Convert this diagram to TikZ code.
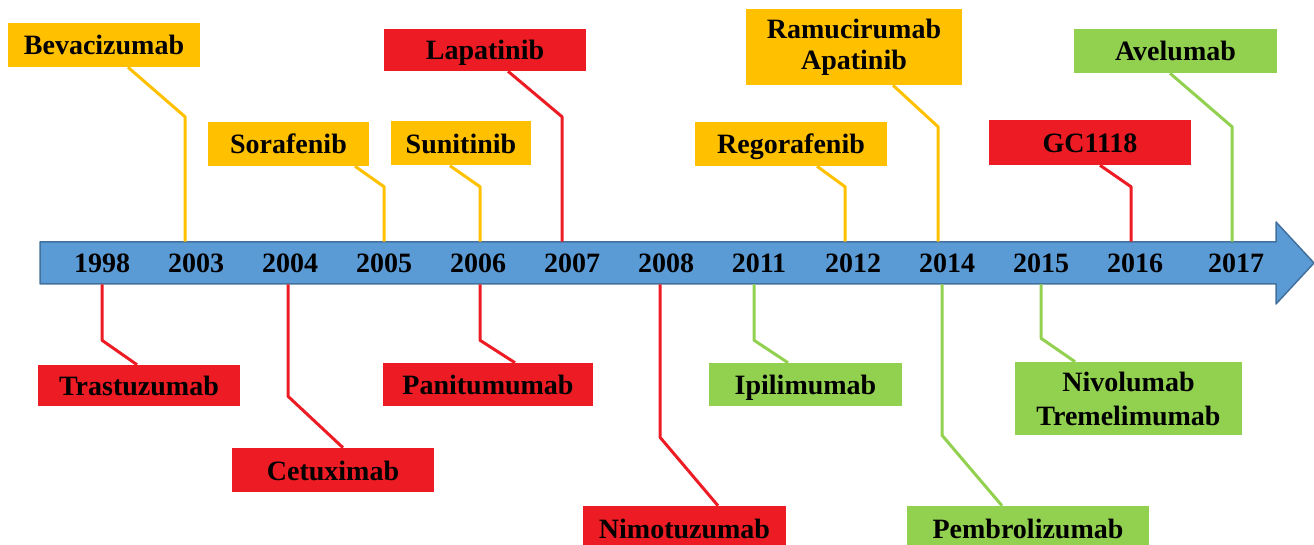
\documentclass[tikz,border=0pt]{standalone}
\usepackage{fontspec}
\setmainfont{Liberation Serif}
\newdimen\pxlen \pxlen=0.75pt
\begin{document}
\begin{tikzpicture}[x=0.75pt, y=-0.75pt, font=\fontsize{21}{25.5}\selectfont\bfseries, line join=round,
	drugbox/.style={inner sep=0pt, minimum height=44\pxlen, text height=15pt, text depth=0pt},
	twobox/.style={inner sep=0pt, align=center},
	yearlbl/.style={inner sep=0pt, minimum height=42\pxlen},
	link/.style={line width=3\pxlen}]
	% Bảng màu
	\definecolor{axisblue}{HTML}{5B9BD5}
	\definecolor{axisdark}{HTML}{41719C}
	\definecolor{drugyellow}{HTML}{FFC000}
	\definecolor{drugred}{HTML}{ED1C24}
	\definecolor{druggreen}{HTML}{92D050}
	
	\useasboundingbox (0,0) rectangle (1314,545);
	
	% Mũi tên thời gian
	\draw[fill=axisblue, draw=axisdark, line width=1.5\pxlen] (40,242) -- (1276,242) -- (1276,222) -- (1314,263) -- (1276,304) -- (1276,284) -- (40,284) -- cycle;
	
	% Các mốc năm
	\foreach \yr/\x in {1998/102, 2003/196, 2004/290, 2005/384, 2006/478, 2007/572, 2008/666, 2011/759, 2012/853, 2014/947, 2015/1041, 2016/1135, 2017/1236} {
		\node[yearlbl] (y\yr) at (\x,263) {\yr};
	}
	
	% Các thuốc phía trên trục
	\node[drugbox, fill=drugyellow, minimum width=192\pxlen] (bev) at (104,45) {Bevacizumab};
	\node[drugbox, fill=drugyellow, minimum width=161\pxlen] (sor) at (288.5,144) {Sorafenib};
	\node[drugbox, fill=drugyellow, minimum width=140\pxlen] (sun) at (461,143.5) {Sunitinib};
	\node[drugbox, fill=drugred, minimum width=202\pxlen, minimum height=42\pxlen] (lap) at (485,50) {Lapatinib};
	\node[drugbox, fill=drugyellow, minimum width=192\pxlen] (reg) at (791,144) {Regorafenib};
	\node[twobox, fill=drugyellow, minimum width=216\pxlen, minimum height=76\pxlen] (ram) at (854,47) {\raisebox{-3\pxlen}{Ramucirumab}\\Apatinib};
	\node[drugbox, fill=drugred, minimum width=202\pxlen, minimum height=45\pxlen] (gc) at (1090,142.5) {GC1118};
	\node[drugbox, fill=druggreen, minimum width=203\pxlen] (ave) at (1175.5,51) {Avelumab};
	
	% Các thuốc phía dưới trục
	\node[drugbox, fill=drugred, minimum width=202\pxlen, minimum height=41\pxlen] (tras) at (139,385.5) {Trastuzumab};
	\node[drugbox, fill=drugred, minimum width=202\pxlen] (cet) at (333,470) {Cetuximab};
	\node[drugbox, fill=drugred, minimum width=210\pxlen, minimum height=43\pxlen] (pan) at (488,384.5) {Panitumumab};
	\node[drugbox, fill=drugred, minimum width=203\pxlen] (nim) at (684.5,528) {Nimotuzumab};
	\node[drugbox, fill=druggreen, minimum width=193\pxlen, minimum height=43\pxlen] (ipi) at (805.5,384.5) {Ipilimumab};
	\node[drugbox, fill=druggreen, minimum width=242\pxlen] (pem) at (1028,528) {Pembrolizumab};
	\node[twobox, fill=druggreen, minimum width=227\pxlen, minimum height=73\pxlen] (niv) at (1128.5,398.5) {Nivolumab\\Tremelimumab};
	
	% Đường nối lên trên
	\draw[link, drugyellow] ([xshift=-11\pxlen]y2003.north) -- ++(0,-125) -- ([xshift=24\pxlen]bev.south);
	\draw[link, drugyellow] (y2005.north) -- ++(0,-55) -- ([xshift=66.5\pxlen]sor.south);
	\draw[link, drugyellow] ([xshift=2\pxlen]y2006.north) -- ++(0,-55) -- ([xshift=-11\pxlen]sun.south);
	\draw[link, drugred] ([xshift=-10\pxlen]y2007.north) -- ++(0,-125) -- ([xshift=23\pxlen]lap.south);
	\draw[link, drugyellow] ([xshift=-8\pxlen]y2012.north) -- ++(0,-55) -- ([xshift=26\pxlen]reg.south);
	\draw[link, drugyellow] ([xshift=-9\pxlen]y2014.north) -- ++(0,-115) -- ([xshift=39\pxlen]ram.south);
	\draw[link, drugred] ([xshift=-4\pxlen]y2016.north) -- ++(0,-55) -- ([xshift=10\pxlen]gc.south);
	\draw[link, druggreen] ([xshift=-4\pxlen]y2017.north) -- ++(0,-115) -- ([xshift=-5.5\pxlen]ave.south);
	
	% Đường nối xuống dưới
	\draw[link, drugred] (y1998.south) -- ++(0,56) -- ([xshift=-2\pxlen]tras.north);
	\draw[link, drugred] ([xshift=-2\pxlen]y2004.south) -- ++(0,112) -- ([xshift=10\pxlen]cet.north);
	\draw[link, drugred] ([xshift=2\pxlen]y2006.south) -- ++(0,56) -- ([xshift=27\pxlen]pan.north);
	\draw[link, drugred] ([xshift=-6\pxlen]y2008.south) -- ++(0,153) -- ([xshift=33.5\pxlen]nim.north);
	\draw[link, druggreen] ([xshift=-5\pxlen]y2011.south) -- ++(0,56) -- ([xshift=-17.5\pxlen]ipi.north);
	\draw[link, druggreen] ([xshift=-5\pxlen]y2014.south) -- ++(0,151) -- ([xshift=-26\pxlen]pem.north);
	\draw[link, druggreen] (y2015.south) -- ++(0,54) -- ([xshift=-53.5\pxlen]niv.north);
\end{tikzpicture}
\end{document}
